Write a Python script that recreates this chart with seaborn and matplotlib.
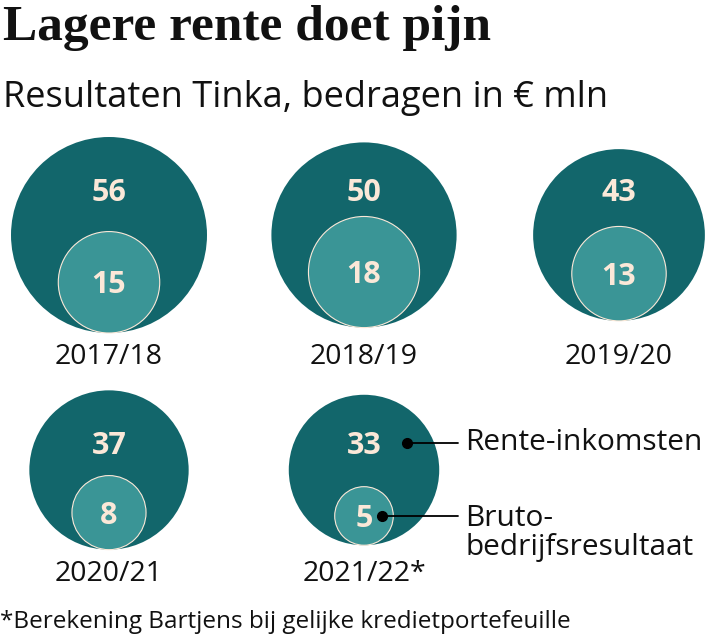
import pandas as pd
import numpy as np
import matplotlib.pyplot as plt
import seaborn as sns

years = ["2017/18", "2018/19", "2019/20", "2020/21", "2021/22*"]
rente = [56, 50, 43, 37, 33]
bruto = [15, 18, 13, 8, 5]

title = "Lagere rente doet pijn"
subtitle = "Resultaten Tinka, bedragen in € mln"
footnote = "*Berekening Bartjens bij gelijke kredietportefeuille"
legend_labels = ["Rente-inkomsten", "Bruto-\nbedrijfsresultaat"]

DARK = "#12666b"
LIGHT = "#3a9596"
CREAM = "#fbe8d8"

sns.set_theme(style="white")
plt.rcParams["font.family"] = ["Open Sans", "DejaVu Sans"]

DPI = 100
W, H = 720, 640
R_MAX = 98  # pixel radius of the largest circle
col_x = [109, 364, 619]
row_y = [235, 470]

df = pd.DataFrame({"year": years, "rente": rente, "bruto": bruto})
df["cx"] = [col_x[i % 3] for i in range(len(df))]
df["cy"] = [row_y[i // 3] for i in range(len(df))]
df["row"] = [i // 3 for i in range(len(df))]
vmax = max(rente)
df["R"] = R_MAX * np.sqrt(df["rente"] / vmax)
df["r"] = R_MAX * np.sqrt(df["bruto"] / vmax)
# small circle sits on the bottom of the big one
df["sy"] = df["cy"] + df["R"] - df["r"]
row_rmax = df.groupby("row")["R"].max()

fig = plt.figure(figsize=(W / DPI, H / DPI), dpi=DPI)
ax = fig.add_axes([0, 0, 1, 1])
ax.set_xlim(0, W)
ax.set_ylim(H, 0)
ax.axis("off")

# marker area in pt^2 for the biggest circle
s_max = (2 * R_MAX * 72 / DPI) ** 2
sns.scatterplot(data=df, x="cx", y="cy", size="rente", sizes=(0, s_max),
                size_norm=(0, vmax), color=DARK, linewidth=0, legend=False,
                ax=ax, zorder=2)
sns.scatterplot(data=df, x="cx", y="sy", size="bruto", sizes=(0, s_max),
                size_norm=(0, vmax), color=LIGHT, edgecolor=CREAM,
                linewidth=0.8, legend=False, ax=ax, zorder=3)

for _, d in df.iterrows():
    top = d["cy"] - row_rmax[d["row"]]
    ax.text(d["cx"], top + 56, str(d["rente"]), ha="center", va="center",
            color=CREAM, fontsize=22, fontweight="bold", zorder=5)
    ax.text(d["cx"], d["sy"] + 3, str(d["bruto"]), ha="center", va="center",
            color=CREAM, fontsize=22, fontweight="bold", zorder=5)
    ax.text(d["cx"], d["cy"] + row_rmax[d["row"]] + 24, d["year"],
            ha="center", va="center", color="#111111", fontsize=20.5)

# legend pointers on the last pair
last = df.iloc[-1]
pts = [(last["cx"] + 43, 443), (last["cx"] + 18, last["sy"])]
for px, py in pts:
    ax.plot([px, 458], [py, py], color="black", lw=1.3, zorder=6)
    ax.plot(px, py, "o", color="black", ms=7, zorder=7)
ax.text(465, pts[0][1], legend_labels[0], ha="left", va="center",
        color="#111111", fontsize=21.5)
ax.text(465, pts[1][1] - 12, legend_labels[1], ha="left", va="top",
        color="#111111", fontsize=21.5, linespacing=0.98)

fig.text(3 / W, 1 - 28 / H, title, ha="left", va="center",
         fontsize=37, fontweight="bold", color="#111111",
         family=["Liberation Serif", "DejaVu Serif"])
fig.text(3 / W, 1 - 98 / H, subtitle, ha="left", va="center",
         fontsize=26, color="#111111")
fig.text(0, 1 - 622 / H, footnote, ha="left", va="center",
         fontsize=17.5, color="#111111")

fig.savefig("out.png", dpi=DPI)
